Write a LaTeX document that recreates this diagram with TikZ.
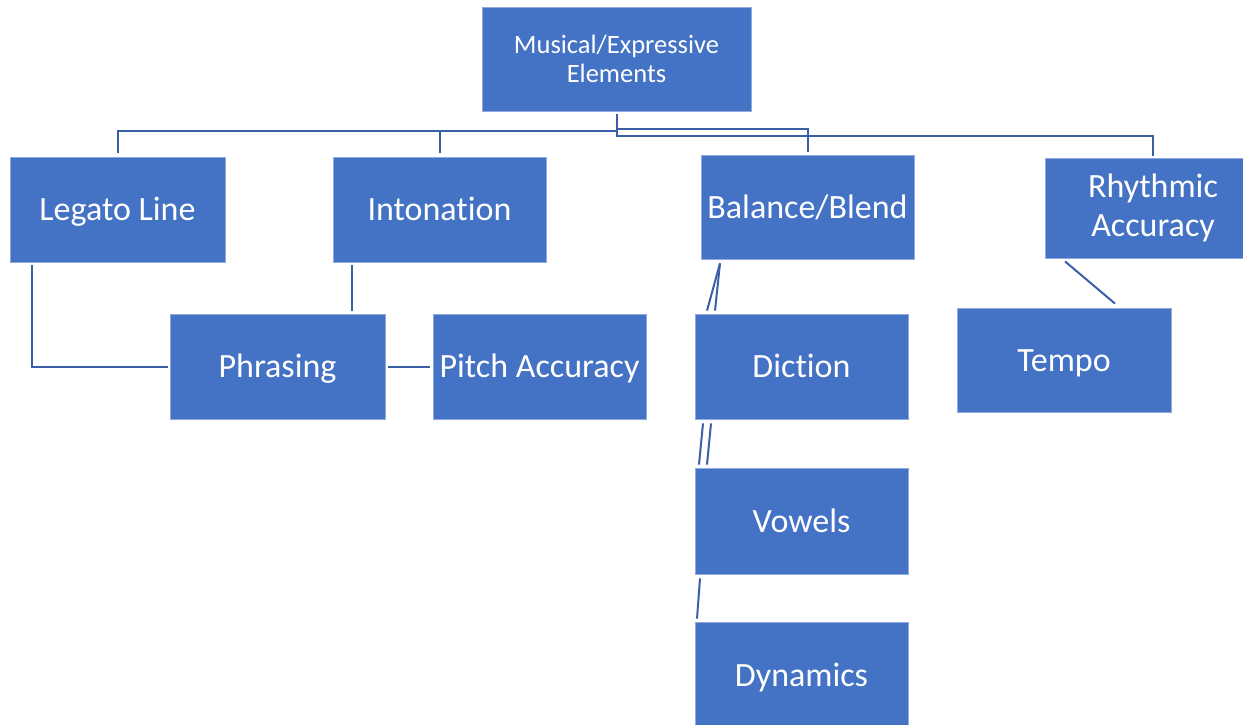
\documentclass[tikz,border=0pt]{standalone}
\usepackage{fontspec}
\setmainfont{Carlito}[Ligatures=NoCommon]
\definecolor{boxblue}{HTML}{4472C4}
\definecolor{edgeblue}{HTML}{8FAADC}
\definecolor{linkblue}{HTML}{3A5FA6}
\begin{document}
\begin{tikzpicture}[x=1pt,y=-1pt,
  box/.style={rectangle, fill=boxblue, draw=edgeblue, line width=0.8pt, inner sep=0pt,
    text=white, align=center, font=\fontsize{34}{39}\selectfont},
  one/.style={box, text height=26.5pt, text depth=4.5pt},
  smallbox/.style={box, font=\fontsize{26.5}{29}\selectfont},
  link/.style={draw=linkblue, line width=2pt}]
\useasboundingbox (0,0) rectangle (1243,725);
\fill[white] (0,0) rectangle (1243,725);
% nodes
\node[smallbox, minimum width=269pt, minimum height=104pt] (top) at (616.5,59) {Musical/Expressive\\Elements};
\node[one, minimum width=215pt, minimum height=105pt] (legato) at (117.5,209.5) {Legato Line};
\node[one, minimum width=213pt, minimum height=105pt] (inton) at (439.5,209.5) {Intonation};
\node[one, minimum width=213pt, minimum height=104pt] (balance) at (807.5,207) {Balance/Blend};
\node[box, minimum width=216pt, minimum height=100pt] (rhythm) at (1153,208) {Rhythmic\\Accuracy};
\node[one, minimum width=215pt, minimum height=105pt] (phrasing) at (277.5,366.5) {Phrasing};
\node[one, minimum width=213pt, minimum height=105pt] (pitch) at (539.5,366.5) {Pitch Accuracy};
\node[one, minimum width=213pt, minimum height=105pt] (diction) at (801.5,366.5) {Diction};
\node[one, minimum width=213pt, minimum height=106pt] (vowels) at (801.5,521) {Vowels};
\node[one, minimum width=213pt, minimum height=106pt] (dynamics) at (801.5,675) {Dynamics};
\node[one, minimum width=214pt, minimum height=104pt] (tempo) at (1064,360) {Tempo};
% top tree connectors
\draw[link] ([yshift=4]legato.north) -- ++(0,-22) -| ([yshift=-3]top.south);
\draw[link] ([yshift=4]inton.north) -- ++(0,-22);
\draw[link] ([yshift=3]balance.north) -- ++(0,-23) -| ([yshift=-3]top.south);
\draw[link] ([yshift=2]rhythm.north) -- ++(0,-20) -| ([yshift=-3]top.south);
% left group
\draw[link] ([xshift=-85.5,yshift=-3]legato.south) |- ([xshift=-2]phrasing.west);
\draw[link] ([xshift=-87.5,yshift=-3]inton.south) -- ([xshift=74.5,yshift=3]phrasing.north);
\draw[link] ([xshift=3]phrasing.east) -- ([xshift=-3]pitch.west);
% Balance/Blend chain
\draw[link] ([xshift=-87.5,yshift=-4]balance.south) -- ([xshift=-94.5,yshift=3]diction.north);
\draw[link] ([xshift=-87.5,yshift=-4]balance.south) -- ([xshift=-86.5,yshift=3]diction.north);
\draw[link] ([xshift=-98.5,yshift=-4]diction.south) -- ([xshift=-102.5,yshift=3]vowels.north);
\draw[link] ([xshift=-90.5,yshift=-4]diction.south) -- ([xshift=-94.5,yshift=3]vowels.north);
\draw[link] ([xshift=-101.5,yshift=-4]vowels.south) -- ([xshift=-104.5,yshift=3]dynamics.north);
% Rhythmic to Tempo
\draw[link] ([xshift=-88,yshift=-3]rhythm.south) -- ([xshift=51,yshift=4]tempo.north);
\end{tikzpicture}
\end{document}
